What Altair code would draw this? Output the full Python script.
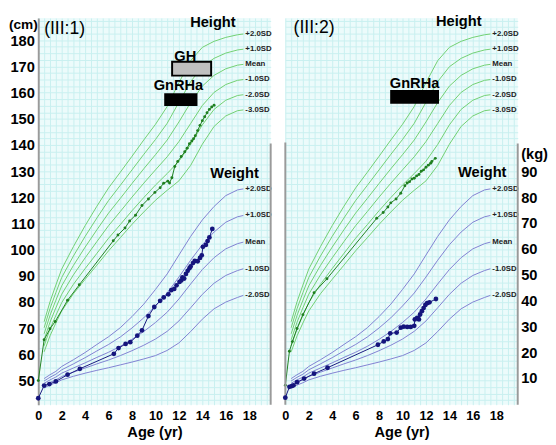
import altair as alt
import pandas as pd

FONT = "Liberation Sans"

# ---------------- reference curves: height (cm) ----------------
HC_AGES = [0.5, 1, 1.5, 2, 3, 4, 5, 6, 7, 8, 9, 10, 11, 12, 13, 14, 15, 16, 17, 17.5]
H_P2 = [72.5, 80.1, 86.5, 92.6, 101.2, 109.2, 116.6, 123.6, 129.6, 135.7, 141.9, 147.9, 154.7, 163.8, 172.2, 177.3, 179.6, 181.1, 182.1, 182.4]
H_P1 = [70.2, 77.5, 83.6, 89.4, 97.6, 105.1, 112.1, 118.8, 124.6, 130.5, 136.4, 142.1, 148.3, 156.3, 164.2, 169.9, 173.1, 175.1, 176.3, 176.6]
H_M = [67.9, 74.9, 80.7, 86.2, 94.0, 101.0, 107.6, 114.0, 119.6, 125.3, 130.9, 136.3, 141.9, 148.8, 156.2, 162.5, 166.6, 169.1, 170.5, 170.8]
H_M1 = [65.6, 72.3, 77.8, 83.0, 90.4, 96.9, 103.1, 109.2, 114.6, 120.1, 125.4, 130.5, 135.5, 141.3, 148.2, 155.1, 160.1, 163.1, 164.7, 165.0]
H_M2 = [63.3, 69.7, 74.9, 79.8, 86.8, 92.8, 98.6, 104.4, 109.6, 114.9, 119.9, 124.7, 129.1, 133.8, 140.2, 147.7, 153.6, 157.1, 158.9, 159.2]
H_M3 = [61.0, 67.1, 72.0, 76.6, 83.2, 88.7, 94.1, 99.6, 104.6, 109.7, 114.4, 118.9, 122.7, 126.3, 132.2, 140.3, 147.1, 151.1, 153.1, 153.4]
H_NAMES = ["+2.0SD", "+1.0SD", "Mean", "-1.0SD", "-2.0SD", "-3.0SD"]

# ---------------- reference curves: weight (kg) ----------------
WC_AGES = [0.5, 1, 1.5, 2, 3, 4, 5, 6, 7, 8, 9, 10, 11, 12, 13, 14, 15, 16, 17, 17.5]
W_P2 = [9.8, 11.3, 12.6, 14.5, 17.1, 19.9, 23.0, 26.0, 29.5, 33.8, 38.6, 44.3, 50.3, 57.6, 64.8, 71.2, 76.4, 80.6, 82.8, 83.2]
W_P1 = [8.9, 10.3, 11.5, 13.2, 15.5, 17.9, 20.5, 23.0, 25.9, 29.4, 33.3, 37.9, 42.9, 49.1, 55.6, 61.6, 66.5, 70.3, 72.4, 72.9]
W_M = [8.0, 9.3, 10.4, 11.9, 13.9, 15.9, 18.0, 20.0, 22.3, 25.0, 28.0, 31.5, 35.5, 40.6, 46.4, 52.0, 56.6, 60.0, 62.0, 62.6]
W_M1 = [7.1, 8.3, 9.3, 10.6, 12.3, 13.9, 15.5, 17.0, 18.7, 20.6, 22.7, 25.1, 28.1, 32.1, 37.2, 42.4, 46.7, 49.7, 51.6, 52.3]
W_M2 = [6.2, 7.3, 8.2, 9.3, 10.7, 11.9, 13.0, 14.0, 15.1, 16.2, 17.4, 18.7, 20.7, 23.6, 28.0, 32.8, 36.8, 39.4, 41.2, 42.0]
W_NAMES = ["+2.0SD", "+1.0SD", "Mean", "-1.0SD", "-2.0SD"]

# ---------------- patient III:1 ----------------
P1_H_AGE = [0, 0.5, 1.0, 1.45, 2.5, 3.5, 6.4, 6.8, 7.4, 7.8, 8.3, 8.85, 9.4, 9.95, 10.4, 10.7, 11.05,
            11.2, 11.4, 11.65, 11.9, 12.2, 12.5, 12.7, 12.9, 13.1, 13.25, 13.4, 13.6, 13.8, 14.0, 14.2,
            14.4, 14.6, 14.8, 15.0]
P1_H_CM = [50, 65.6, 69.8, 72.6, 80.7, 86.6, 103.4, 105.6, 108.3, 111.0, 113.2, 116.9, 119.4, 121.9,
           123.7, 125.4, 126.2, 125.5, 127.5, 131.8, 133.7, 135.6, 137.4, 138.8, 140.5, 141.5, 142.4,
           143.5, 145.5, 147.5, 149.3, 150.8, 152.3, 153.6, 154.5, 155.2]
P1_W_AGE = [0, 0.5, 0.95, 1.5, 2.5, 3.55, 6.45, 6.85, 7.45, 7.85, 8.45, 8.85, 9.4, 9.9, 10.4, 10.7,
            11.1, 11.35, 11.6, 11.8, 12.05, 12.2, 12.3, 12.45, 12.6, 12.75, 12.9, 13.0, 13.2, 13.35,
            13.6, 13.8, 13.95, 14.05, 14.3, 14.45, 14.6, 14.85]
P1_W_KG = [2.2, 7.1, 7.7, 8.7, 11.3, 13.6, 19.4, 21.6, 23.2, 23.9, 26.4, 28.5, 34.0, 37.5, 39.9, 41.2,
           42.4, 44.0, 44.5, 45.9, 47.2, 47.8, 49.0, 48.5, 50.3, 51.5, 52.5, 53.2, 54.5, 55.3, 55.2,
           56.5, 57.5, 60.8, 61.5, 63.0, 64.4, 67.7]
P1_BOX_NAME = ["GH", "GnRHa"]
P1_BOX_START = [11.42, 10.83]
P1_BOX_END = [14.75, 13.5]
P1_BOX_TOP = [171.8, 159.4]
P1_BOX_BOTTOM = [166.5, 155.3]
P1_BOX_FILL = ["#c0c0c0", "#000000"]
P1_BOX_LABEL_AGE = [12.54, 11.96]
P1_BOX_LABEL_CM = [174.0, 162.8]

# ---------------- patient III:2 ----------------
P2_H_AGE = [0, 0.35, 0.6, 1.0, 1.5, 2.45, 3.55, 7.8, 8.35, 8.75, 9.0, 9.45, 9.85, 10.2, 10.4, 10.6,
            10.8, 11.0, 11.2, 11.4, 11.6, 11.8, 12.0, 12.2, 12.4, 12.5, 12.8]
P2_H_CM = [48.2, 61.2, 64.9, 69.9, 75.2, 83.6, 88.9, 112.0, 114.2, 116.3, 117.9, 119.4, 121.6, 124.4,
           125.5, 126.0, 127.0, 127.3, 128.2, 128.7, 130.0, 130.5, 131.5, 132.3, 133.0, 133.7, 134.9]
P2_W_AGE = [0, 0.35, 0.55, 0.7, 1.0, 1.6, 2.45, 3.6, 7.9, 8.4, 8.75, 8.95, 9.5, 9.85, 10.1, 10.4,
            10.7, 11.0, 11.05, 11.25, 11.4, 11.5, 11.65, 11.8, 11.95, 12.1, 12.3, 12.85]
P2_W_KG = [2.4, 6.6, 6.9, 7.2, 8.4, 9.8, 11.7, 14.0, 22.9, 24.2, 25.1, 27.3, 27.6, 29.5, 29.9, 29.8,
           29.8, 30.2, 32.7, 33.3, 32.7, 34.6, 35.9, 37.1, 38.3, 39.0, 39.3, 40.6]
P2_BOX_NAME = ["GnRHa"]
P2_BOX_START = [9.03]
P2_BOX_END = [13.03]
P2_BOX_TOP = [160.6]
P2_BOX_BOTTOM = [156.1]
P2_BOX_FILL = ["#000000"]
P2_BOX_LABEL_AGE = [11.03]
P2_BOX_LABEL_CM = [163.5]

# panel annotation texts (position in data units)
P1_TEXT = ["(III:1)", "Height", "Weight"]
P1_TEXT_AGE = [0.5, 14.9, 16.75]
P1_TEXT_CM = [184.4, 186.9, 129.4]
P2_TEXT = ["(III:2)", "Height", "Weight"]
P2_TEXT_AGE = [0.7, 14.8, 16.8]
P2_TEXT_CM = [184.6, 187.4, 129.6]

X_DOMAIN = [0, 19.83]
CM_DOMAIN = [40.8, 188.5]
KG_DOMAIN = [-0.3, 149.3]
AXIS_LINE_TOP_CM = 141.0
AXIS_LINE_TOP_KG = 100.8
PW, PH = 238, 396

GREEN_REF = "#70d070"
BLUE_REF = "#7f7fd2"
GREEN_PT = "#1f7f1f"
BLUE_PT = "#15157d"
GRID = "#c8f0f0"
BG = "#ecfbfb"
AXGRAY = "#9a9a9a"


def long_df(ages, series, names, field):
    rows = []
    for name, vals in zip(names, series):
        for i, (a, v) in enumerate(zip(ages, vals)):
            rows.append({"age": a, field: v, "sd": name, "i": i})
    return pd.DataFrame(rows)


h_curves = long_df(HC_AGES, [H_P2, H_P1, H_M, H_M1, H_M2, H_M3], H_NAMES, "cm")
w_curves = long_df(WC_AGES, [W_P2, W_P1, W_M, W_M1, W_M2], W_NAMES, "kg")
h_ends = pd.DataFrame({"age": [HC_AGES[-1]] * 6,
                       "cm": [s[-1] for s in [H_P2, H_P1, H_M, H_M1, H_M2, H_M3]],
                       "sd": H_NAMES})
w_ends = pd.DataFrame({"age": [WC_AGES[-1]] * 5,
                       "kg": [s[-1] for s in [W_P2, W_P1, W_M, W_M1, W_M2]],
                       "sd": W_NAMES})

x_axis = alt.Axis(
    values=[i * 0.5 for i in range(0, 40)],
    labelExpr="(datum.value % 2 == 0 && datum.value <= 18) ? format(datum.value, 'd') : ''",
    title="Age (yr)", grid=True, gridColor=GRID, gridWidth=1, ticks=False, domain=False,
    labelFontSize=13, labelFontWeight="bold", labelPadding=5, labelColor="#000",
    titleFontSize=15, titleFontWeight="bold", titlePadding=3, titleColor="#000",
    labelFlush=False, labelOverlap=False,
)
X = alt.X("age:Q", scale=alt.Scale(domain=X_DOMAIN, nice=False, zero=False), axis=x_axis)

cm_vals = [42.5 + 2.5 * i for i in range(59)]


def cm_axis(show):
    if show:
        return alt.Axis(
            values=cm_vals,
            labelExpr="(datum.value % 10 == 0 && datum.value >= 50 && datum.value <= 180) ? format(datum.value, 'd') : ''",
            grid=True, gridColor=GRID, gridWidth=1, ticks=False,
            domain=True, domainColor=AXGRAY, domainWidth=2,
            labelFontSize=15, labelFontWeight="bold", labelPadding=4, labelColor="#000",
            title="(cm)", titleAngle=0, titleAlign="right", titleBaseline="top",
            titleX=-1, titleY=0, titleFontSize=14, titleFontWeight="bold", titleColor="#000",
            labelOverlap=False,
        )
    return alt.Axis(values=cm_vals, labels=False, grid=True, gridColor=GRID, gridWidth=1,
                    ticks=False, domain=False, title=None)


def kg_axis(show):
    if show:
        return alt.Axis(
            orient="right", values=[10, 20, 30, 40, 50, 60, 70, 80, 90],
            grid=False, ticks=False, domain=False,
            labelFontSize=15, labelFontWeight="bold", labelPadding=3, labelColor="#000",
            title="(kg)", titleAngle=0, titleAlign="left", titleBaseline="middle",
            titleX=3, titleY=139, titleFontSize=15, titleFontWeight="bold", titleColor="#000",
            labelOverlap=False,
        )
    return None


def panel(h_age, h_cm, w_age, w_kg, bname, bstart, bend, btop, bbot, bfill, blage, blcm,
          texts, tage, tcm, left, rule_age):
    Ycm = alt.Y("cm:Q", scale=alt.Scale(domain=CM_DOMAIN, nice=False, zero=False), axis=cm_axis(left))
    Ykg = alt.Y("kg:Q", scale=alt.Scale(domain=KG_DOMAIN, nice=False, zero=False), axis=kg_axis(not left))

    hc = alt.Chart(h_curves).mark_line(color=GREEN_REF, strokeWidth=1).encode(
        x=X, y=Ycm, detail="sd:N", order="i:Q")
    hl = alt.Chart(h_ends).mark_text(align="left", baseline="middle", dx=2, font=FONT,
                                     fontSize=8, fontWeight="bold", color="#222").encode(
        x=X, y=Ycm, text="sd:N")
    hp = pd.DataFrame({"age": h_age, "cm": h_cm})
    hline = alt.Chart(hp).mark_line(color=GREEN_PT, strokeWidth=1).encode(x=X, y=Ycm)
    hpts = alt.Chart(hp).mark_circle(color=GREEN_PT, size=9, opacity=1).encode(x=X, y=Ycm)
    bx = pd.DataFrame({"name": bname, "age": bstart, "age2": bend, "cm": btop, "cm2": bbot, "fill": bfill})
    boxes = alt.Chart(bx).mark_rect(stroke="#000", strokeWidth=2).encode(
        x=X, x2="age2:Q", y=Ycm, y2="cm2:Q",
        fill=alt.Fill("fill:N", scale=None))
    bl = pd.DataFrame({"name": bname, "age": blage, "cm": blcm})
    blab = alt.Chart(bl).mark_text(font=FONT, fontSize=15, fontWeight="bold", color="#000",
                                   baseline="middle").encode(x=X, y=Ycm, text="name:N")
    tx = pd.DataFrame({"t": texts, "age": tage, "cm": tcm})
    tid = alt.Chart(tx.iloc[[0]]).mark_text(font=FONT, fontSize=18, align="left", baseline="middle",
                                            color="#000").encode(x=X, y=Ycm, text="t:N")
    thw = alt.Chart(tx.iloc[[1, 2]]).mark_text(font=FONT, fontSize=15, fontWeight="bold",
                                               baseline="middle", color="#000").encode(x=X, y=Ycm, text="t:N")
    rl = pd.DataFrame({"age": [rule_age], "cm": [AXIS_LINE_TOP_CM], "cm2": [CM_DOMAIN[0]]})
    cm_layers = [hc, hl, hline, hpts, boxes, blab, tid, thw]
    if not left:
        cm_layers.append(alt.Chart(rl).mark_rule(color=AXGRAY, strokeWidth=2).encode(x=X, y=Ycm, y2="cm2:Q"))
    cm_layer = alt.layer(*cm_layers)

    wc = alt.Chart(w_curves).mark_line(color=BLUE_REF, strokeWidth=1).encode(
        x=X, y=Ykg, detail="sd:N", order="i:Q")
    wl = alt.Chart(w_ends).mark_text(align="left", baseline="middle", dx=2, font=FONT,
                                     fontSize=8, fontWeight="bold", color="#222").encode(
        x=X, y=Ykg, text="sd:N")
    wp = pd.DataFrame({"age": w_age, "kg": w_kg})
    wline = alt.Chart(wp).mark_line(color=BLUE_PT, strokeWidth=1).encode(x=X, y=Ykg)
    wpts = alt.Chart(wp).mark_circle(color=BLUE_PT, size=24, opacity=1).encode(x=X, y=Ykg)
    kr = pd.DataFrame({"age": [X_DOMAIN[1]], "kg": [AXIS_LINE_TOP_KG], "kg2": [KG_DOMAIN[0]]})
    krule = alt.Chart(kr).mark_rule(color=AXGRAY, strokeWidth=2).encode(x=X, y=Ykg, y2="kg2:Q")
    kg_layer = alt.layer(wc, wl, wline, wpts, krule)

    return alt.layer(cm_layer, kg_layer).resolve_scale(y="independent").properties(width=PW, height=PH)


p1 = panel(P1_H_AGE, P1_H_CM, P1_W_AGE, P1_W_KG, P1_BOX_NAME, P1_BOX_START, P1_BOX_END,
           P1_BOX_TOP, P1_BOX_BOTTOM, P1_BOX_FILL, P1_BOX_LABEL_AGE, P1_BOX_LABEL_CM,
           P1_TEXT, P1_TEXT_AGE, P1_TEXT_CM, True, 0)
p2 = panel(P2_H_AGE, P2_H_CM, P2_W_AGE, P2_W_KG, P2_BOX_NAME, P2_BOX_START, P2_BOX_END,
           P2_BOX_TOP, P2_BOX_BOTTOM, P2_BOX_FILL, P2_BOX_LABEL_AGE, P2_BOX_LABEL_CM,
           P2_TEXT, P2_TEXT_AGE, P2_TEXT_CM, False, 0)

chart = alt.hconcat(p1, p2, spacing=10).properties(padding=0).configure_view(
    fill=BG, stroke=None
).configure_axis(labelFont=FONT, titleFont=FONT).configure_text(font=FONT)

chart.save("out.html", embed_options={"renderer": "svg", "actions": False})
